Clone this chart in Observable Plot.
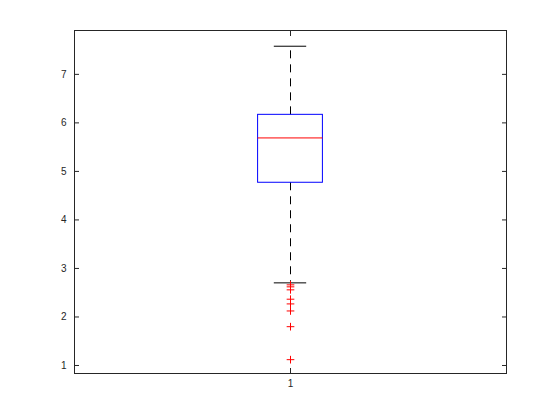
<!DOCTYPE html>
<html>
<head>
<meta charset="utf-8">
<script src="https://cdn.jsdelivr.net/npm/d3@7"></script>
<script src="https://cdn.jsdelivr.net/npm/@observablehq/plot@0.6"></script>
<style>
  html, body { margin: 0; padding: 0; background: #fff; }
</style>
</head>
<body>
<div id="chart"></div>
<script>
// Data
const categories = [1];
const q1 = [4.766];
const medians = [5.69];
const q3 = [6.166];
const whiskerLow = [2.703];
const whiskerHigh = [7.58];
const outliers = [2.662, 2.621, 2.559, 2.366, 2.269, 2.124, 1.80, 1.12];
const yTicks = [1, 2, 3, 4, 5, 6, 7];
const xTicks = [1];

const boxHalf = 0.075;
const capHalf = 0.0375;
const axisColor = "#262626";

const boxes = categories.map((c, i) => ({
  c, q1: q1[i], med: medians[i], q3: q3[i], lo: whiskerLow[i], hi: whiskerHigh[i]
}));
const outlierPts = outliers.map(v => ({c: categories[0], v}));

const chart = Plot.plot({
  width: 560,
  height: 420,
  marginLeft: 74,
  marginRight: 54,
  marginTop: 30,
  marginBottom: 47,
  style: {fontFamily: "'Liberation Sans', Arial, sans-serif", fontSize: "10px", color: axisColor, background: "#fff"},
  x: {domain: [0.5, 1.5], label: null},
  y: {domain: [0.835, 7.904], label: null},
  marks: [
    Plot.frame({stroke: axisColor, strokeWidth: 1}),
    Plot.axisY(yTicks, {anchor: "left", tickSize: -5, tickPadding: 13, stroke: axisColor, fill: axisColor, label: null}),
    Plot.axisY(yTicks, {anchor: "right", tickSize: -5, tickFormat: () => "", stroke: axisColor, label: null}),
    Plot.axisX(xTicks, {anchor: "bottom", tickSize: -5, tickPadding: 11, tickFormat: d => String(d), stroke: axisColor, fill: axisColor, label: null}),
    Plot.axisX(xTicks, {anchor: "top", tickSize: -5, tickFormat: () => "", stroke: axisColor, label: null}),
    // whiskers (dashed)
    Plot.ruleX(boxes, {x: "c", y1: "q3", y2: "hi", stroke: "black", strokeWidth: 1, strokeDasharray: "8,6"}),
    Plot.ruleX(boxes, {x: "c", y1: "q1", y2: "lo", stroke: "black", strokeWidth: 1, strokeDasharray: "8,6"}),
    // whisker caps
    Plot.ruleY(boxes, {y: "hi", x1: d => d.c - capHalf, x2: d => d.c + capHalf, stroke: "black", strokeWidth: 1}),
    Plot.ruleY(boxes, {y: "lo", x1: d => d.c - capHalf, x2: d => d.c + capHalf, stroke: "black", strokeWidth: 1}),
    // box
    Plot.rect(boxes, {x1: d => d.c - boxHalf, x2: d => d.c + boxHalf, y1: "q1", y2: "q3", fill: "none", stroke: "#0000ff", strokeWidth: 1}),
    // median
    Plot.ruleY(boxes, {y: "med", x1: d => d.c - boxHalf, x2: d => d.c + boxHalf, stroke: "#ff0000", strokeWidth: 1}),
    // outliers
    Plot.dot(outlierPts, {x: "c", y: "v", symbol: "plus", r: 2.6, stroke: "#ff0000", strokeWidth: 1})
  ]
});
document.getElementById("chart").appendChild(chart);
</script>
</body>
</html>
